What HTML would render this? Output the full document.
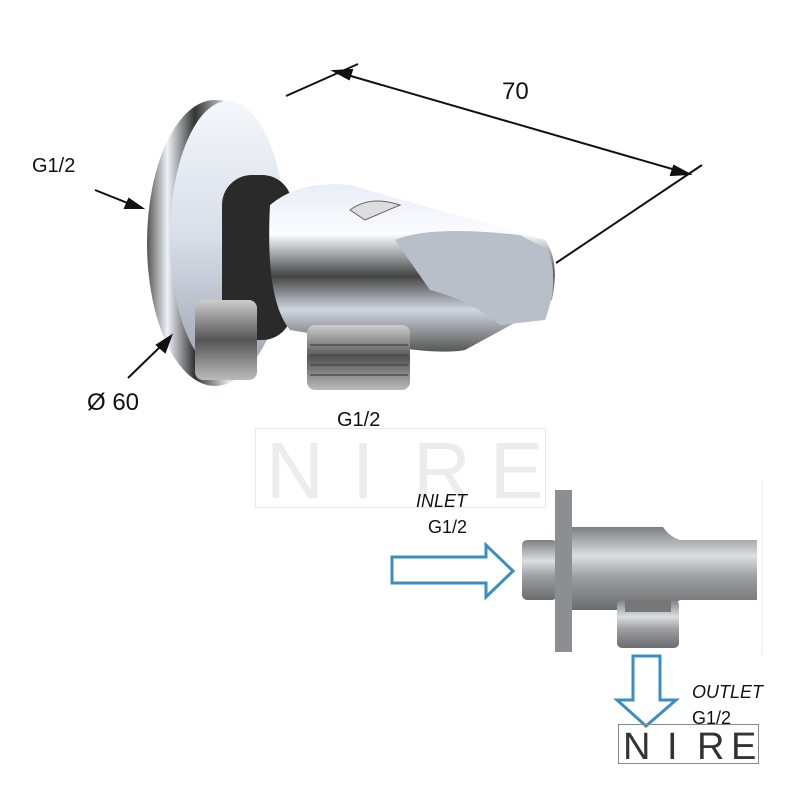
<!DOCTYPE html>
<html><head><meta charset="utf-8"><style>
html,body{margin:0;padding:0;background:#fff;width:800px;height:800px;overflow:hidden}
svg{display:block}
text{font-family:"Liberation Sans",sans-serif;fill:#111}
text.wm{fill:#ececec}
text.sm{fill:#333}
</style></head><body>
<svg width="800" height="800" viewBox="0 0 800 800" xmlns="http://www.w3.org/2000/svg">
<defs>
<linearGradient id="disc" x1="0" y1="0" x2="1" y2="0">
<stop offset="0" stop-color="#555"/><stop offset="0.15" stop-color="#eef2f8"/><stop offset="0.35" stop-color="#333"/><stop offset="0.6" stop-color="#dfe5ee"/><stop offset="1" stop-color="#c9d0da"/></linearGradient>
<linearGradient id="face" x1="0" y1="0" x2="0" y2="1">
<stop offset="0" stop-color="#f4f7fb"/><stop offset="0.5" stop-color="#d8dee8"/><stop offset="1" stop-color="#9aa2ae"/></linearGradient>
<linearGradient id="arm" x1="0" y1="0" x2="0" y2="1">
<stop offset="0" stop-color="#e9eef5"/><stop offset="0.3" stop-color="#fafcff"/><stop offset="0.55" stop-color="#444"/><stop offset="0.75" stop-color="#d0d6df"/><stop offset="1" stop-color="#555"/></linearGradient>
<linearGradient id="thr" x1="0" y1="0" x2="0" y2="1">
<stop offset="0" stop-color="#ccc"/><stop offset="0.5" stop-color="#555"/><stop offset="1" stop-color="#bbb"/></linearGradient>
<linearGradient id="grey" x1="0" y1="0" x2="0" y2="1">
<stop offset="0" stop-color="#7d7f83"/><stop offset="0.35" stop-color="#dcdee1"/><stop offset="0.6" stop-color="#9d9fa3"/><stop offset="1" stop-color="#6a6c70"/></linearGradient>
</defs>

<ellipse cx="215" cy="243" rx="68" ry="143" fill="url(#disc)"/>
<ellipse cx="228" cy="238" rx="58" ry="137" fill="url(#face)"/>
<rect x="222" y="175" width="70" height="165" rx="30" fill="#2a2a2a"/>
<path d="M270 205 Q300 180 350 185 L545 240 Q560 260 552 300 L520 320 L465 350 Q440 355 380 345 L290 330 Q265 300 270 205Z" fill="url(#arm)"/>
<path d="M395 240 Q430 225 520 235 L548 250 Q560 280 545 320 L500 325 Q470 300 430 290 Z" fill="#b9bfc8"/>
<path d="M350 210 Q370 195 400 205 L365 220Z" fill="#ddd" stroke="#666"/>
<rect x="195" y="300" width="62" height="80" rx="8" fill="url(#thr)"/>
<rect x="307" y="325" width="103" height="65" rx="8" fill="url(#thr)"/>
<g stroke="#444" stroke-width="1.2">
<line x1="310" y1="345" x2="408" y2="345"/><line x1="310" y1="355" x2="408" y2="355"/><line x1="310" y1="365" x2="408" y2="365"/><line x1="310" y1="375" x2="408" y2="375"/>
</g>

<g stroke="#111" stroke-width="2" fill="#111">
<line x1="286" y1="96" x2="358" y2="64"/>
<line x1="556" y1="263" x2="702" y2="165"/>
<line x1="337" y1="72" x2="686" y2="173"/>
<path d="M334 71 L352 70 L349 79Z"/><path d="M689 174 L671 175 L674 166Z"/>
<line x1="95" y1="190" x2="130" y2="204"/><path d="M142 208 L125 208 L129 199Z"/>
<line x1="128" y1="378" x2="162" y2="345"/><path d="M171 336 L165 352 L157 345Z"/>
</g>
<text x="502" y="99" font-size="24">70</text>
<text x="32" y="172" font-size="20">G1/2</text>
<text x="87" y="410" font-size="24">Ø 60</text>
<text x="337" y="426" font-size="20">G1/2</text>

<rect x="255.5" y="428.5" width="290" height="79" fill="none" stroke="#e8e8e8"/>
<text class="wm" x="266" y="498" font-size="80">N</text><text class="wm" x="352" y="498" font-size="80">I</text><text class="wm" x="413" y="498" font-size="80">R</text><text class="wm" x="490" y="498" font-size="80">E</text>

<rect x="522" y="540" width="35" height="60" rx="5" fill="url(#grey)"/>
<rect x="555" y="490" width="17" height="162" fill="#8c8e92"/>
<path d="M572 527 L663 527 Q670 537 680 540 L757 540 L757 600 L680 600 Q670 608 660 610 L572 610Z" fill="url(#grey)"/>
<rect x="617" y="600" width="62" height="48" rx="5" fill="url(#grey)"/>
<rect x="625" y="600" width="46" height="12" fill="#777"/>
<line x1="762" y1="480" x2="762" y2="655" stroke="#eee"/>

<path d="M392 557 L486 557 L486 545 L513 571 L486 597 L486 583 L392 583Z" fill="none" stroke="#3a8fc0" stroke-width="3"/>
<path d="M633 656 L660 656 L660 700 L676 700 L646 726 L617 700 L633 700Z" fill="none" stroke="#3a8fc0" stroke-width="3"/>

<text x="416" y="507" font-size="18" font-style="italic">INLET</text>
<text x="428" y="533" font-size="18">G1/2</text>
<text x="692" y="698" font-size="18" font-style="italic">OUTLET</text>
<text x="692" y="724" font-size="18">G1/2</text>

<rect x="618.5" y="724.5" width="140" height="39" fill="none" stroke="#888"/>
<text class="sm" x="623" y="759" font-size="38">N</text><text class="sm" x="667" y="759" font-size="38">I</text><text class="sm" x="697" y="759" font-size="38">R</text><text class="sm" x="731" y="759" font-size="38">E</text>
</svg>
</body></html>
